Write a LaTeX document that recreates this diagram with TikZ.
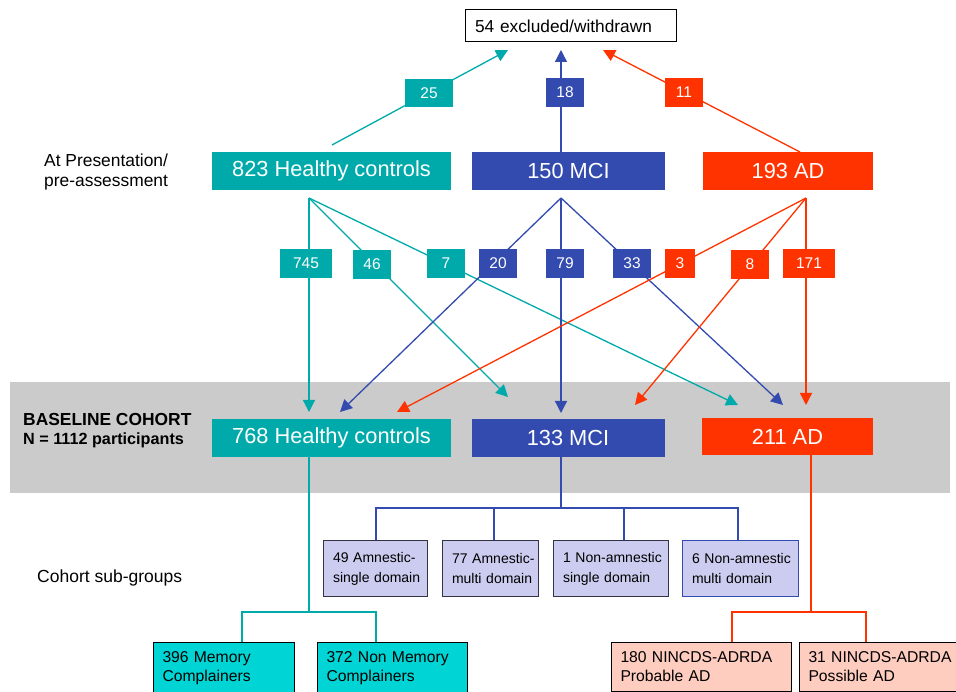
\documentclass[tikz,border=0pt]{standalone}
\usepackage{fontspec}
\setmainfont{Liberation Sans}
\usetikzlibrary{arrows.meta}
\definecolor{teal1}{HTML}{00AAAA}
\definecolor{blue1}{HTML}{334AAF}
\definecolor{red1}{HTML}{FF3300}
\definecolor{band}{HTML}{CBCBCB}
\definecolor{lav}{HTML}{CCCCF0}
\definecolor{lavline}{HTML}{333344}
\definecolor{cyan1}{HTML}{00D4D4}
\definecolor{pink1}{HTML}{FFCCC0}
\begin{document}
\begin{tikzpicture}[x=1pt,y=-1pt,
  big/.style={minimum height=38pt, inner sep=0pt, text=white, font=\fontsize{21.8}{25}\selectfont},
  num/.style={minimum height=29pt, inner sep=0pt, text=white, font=\fontsize{15.5}{18}\selectfont},
  arr/.style={line width=1.3pt, -{Triangle[length=12pt,width=12pt]}},
  ln/.style={line width=1.3pt},
  subbox/.style={draw=lavline, line width=1pt, fill=lav, minimum height=56pt, inner xsep=10pt, inner ysep=0pt,
     align=left, font=\fontsize{14}{20}\selectfont},
  leafbox/.style={draw=black, line width=1pt, inner xsep=9pt, inner ysep=9.5pt, anchor=north west,
     align=left, font=\fontsize{15.7}{19}\selectfont},
  lbl/.style={anchor=base west, inner sep=0pt, font=\fontsize{17.4}{20}\selectfont}
]
\useasboundingbox (0,0) rectangle (956,692);
\clip (0,0) rectangle (956,692);

% grey band
\fill[band] (10,382) rectangle (950,493);

% side labels
\node[lbl] (lp1) at (44,167) {At Presentation/};
\node[lbl] (lp2) at (44,187) {pre-assessment};
\node[lbl, font=\fontsize{17.4}{20}\selectfont\bfseries] (lb1) at (23,426) {BASELINE COHORT};
\node[lbl, font=\fontsize{16.2}{18}\selectfont\bfseries] (lb2) at (23,445) {N = 1112 participants};
\node[lbl, font=\fontsize{17.5}{20}\selectfont] (lc) at (37,582) {Cohort sub-groups};

% coordinates
\coordinate (fh) at (309,198);
\coordinate (fm) at (561,198);
\coordinate (fa) at (806,198);
\coordinate (sH) at (332,145);
\coordinate (sM) at (561,152);
\coordinate (sA) at (800,152);
\coordinate (eH) at (508,50);
\coordinate (eM) at (561,50);
\coordinate (eA) at (603,50);
\coordinate (tH745) at (309,412);
\coordinate (tH46) at (508,397);
\coordinate (tH7) at (738,405);
\coordinate (tM20) at (340,412);
\coordinate (tM79) at (561,413);
\coordinate (tM33) at (783,405);
\coordinate (tA3) at (397,412);
\coordinate (tA8) at (635,405);
\coordinate (tA171) at (806,405);

% top box
\node[draw=black, line width=1pt, minimum height=32pt, text width=191pt, inner xsep=10pt, inner ysep=0pt,
      align=left, font=\fontsize{17.3}{20}\selectfont] (ex) at (570.5,26) {54 excluded/withdrawn};

% withdrawal arrows
\draw[arr, teal1] (sH) -- (eH);
\draw[arr, blue1] (sM) -- (eM);
\draw[arr, red1] (sA) -- (eA);

% transition arrows
\draw[arr, teal1] (fh) -- (tH745);
\draw[arr, teal1] (fh) -- (tH46);
\draw[arr, teal1] (fh) -- (tH7);
\draw[arr, blue1] (fm) -- (tM20);
\draw[arr, blue1] (fm) -- (tM79);
\draw[arr, blue1] (fm) -- (tM33);
\draw[arr, red1] (fa) -- (tA3);
\draw[arr, red1] (fa) -- (tA8);
\draw[arr, red1] (fa) -- (tA171);

% presentation boxes
\node[big, fill=teal1, minimum width=239pt] (hc1) at (331.5,171) {823 Healthy controls};
\node[big, fill=blue1, minimum width=193pt] (mci1) at (568.5,171) {150 MCI};
\node[big, fill=red1, minimum width=170pt] (ad1) at (788,171) {193 AD};

% count boxes
\node[num, fill=teal1, minimum width=48pt, minimum height=28pt] (n25) at (429,93.5) {25};
\node[num, fill=blue1, minimum width=38pt] (n18) at (565,92.5) {18};
\node[num, fill=red1, minimum width=38pt] (n11) at (684,92.5) {11};
\node[num, fill=teal1, minimum width=52pt] (n745) at (306,263.5) {745};
\node[num, fill=teal1, minimum width=38pt] (n46) at (372,264.5) {46};
\node[num, fill=teal1, minimum width=38pt] (n7) at (446,263.5) {7};
\node[num, fill=blue1, minimum width=38pt] (n20) at (498,263.5) {20};
\node[num, fill=blue1, minimum width=38pt] (n79) at (565,263.5) {79};
\node[num, fill=blue1, minimum width=38pt] (n33) at (632,263.5) {33};
\node[num, fill=red1, minimum width=30pt] (n3) at (680,263.5) {3};
\node[num, fill=red1, minimum width=38pt] (n8) at (750,264.5) {8};
\node[num, fill=red1, minimum width=52pt] (n171) at (809,263.5) {171};

% baseline boxes
\node[big, fill=teal1, minimum width=239pt] (hc2) at (331.5,438) {768 Healthy controls};
\node[big, fill=blue1, minimum width=193pt] (mci2) at (568,438) {133 MCI};
\node[big, fill=red1, minimum width=171pt, minimum height=37pt] (ad2) at (787.5,436.5) {211 AD};

% MCI sub-groups
\coordinate (mh) at (561,508);
\coordinate (m1) at (376,508);
\coordinate (m4) at (738,508);
\coordinate (m2) at (494,508);
\coordinate (m3) at (624,508);
\node[subbox, minimum width=104pt, text width=84pt] (s1) at (375,568.5) {\mbox{49 Amnestic-}\\\mbox{single domain}};
\node[subbox, minimum width=96pt, text width=76pt] (s2) at (490,568.5) {\mbox{77 Amnestic-}\\\mbox{multi domain}};
\node[subbox, minimum width=115pt, text width=95pt] (s3) at (610.5,568.5) {\mbox{1 Non-amnestic}\\\mbox{single domain}};
\node[subbox, draw=blue1, minimum width=116pt, text width=96pt] (s4) at (740,568.5) {\mbox{6 Non-amnestic}\\\mbox{multi domain}};
\draw[ln, blue1] (mci2.south -| mh) -- (mh);
\draw[ln, blue1] (m1 |- s1.north) -- (m1) -- (m4) -- (m4 |- s4.north);
\draw[ln, blue1] (m2) -- (m2 |- s2.north);
\draw[ln, blue1] (m3) -- (m3 |- s3.north);

% healthy sub-groups
\coordinate (hh) at (309,612);
\coordinate (h1) at (242,612);
\coordinate (h2) at (376,612);
\node[leafbox, fill=cyan1, text width=123pt] (b1) at (153,642) {396 Memory\\Complainers};
\node[leafbox, fill=cyan1, text width=132pt] (b2) at (317,642) {372 Non Memory\\Complainers};
\draw[ln, teal1] (hc2.south -| hh) -- (hh);
\draw[ln, teal1] (h1 |- b1.north) -- (h1) -- (h2) -- (h2 |- b2.north);

% AD sub-groups
\coordinate (ah) at (811,612);
\coordinate (a1) at (732,612);
\coordinate (a2) at (866,612);
\node[leafbox, fill=pink1, text width=162pt] (r1) at (611,642) {180 NINCDS-ADRDA\\Probable AD};
\node[leafbox, fill=pink1, text width=160pt] (r2) at (799,642) {31 NINCDS-ADRDA\\Possible AD};
\draw[ln, red1] (ad2.south -| ah) -- (ah);
\draw[ln, red1] (a1 |- r1.north) -- (a1) -- (a2) -- (a2 |- r2.north);
\end{tikzpicture}
\end{document}
